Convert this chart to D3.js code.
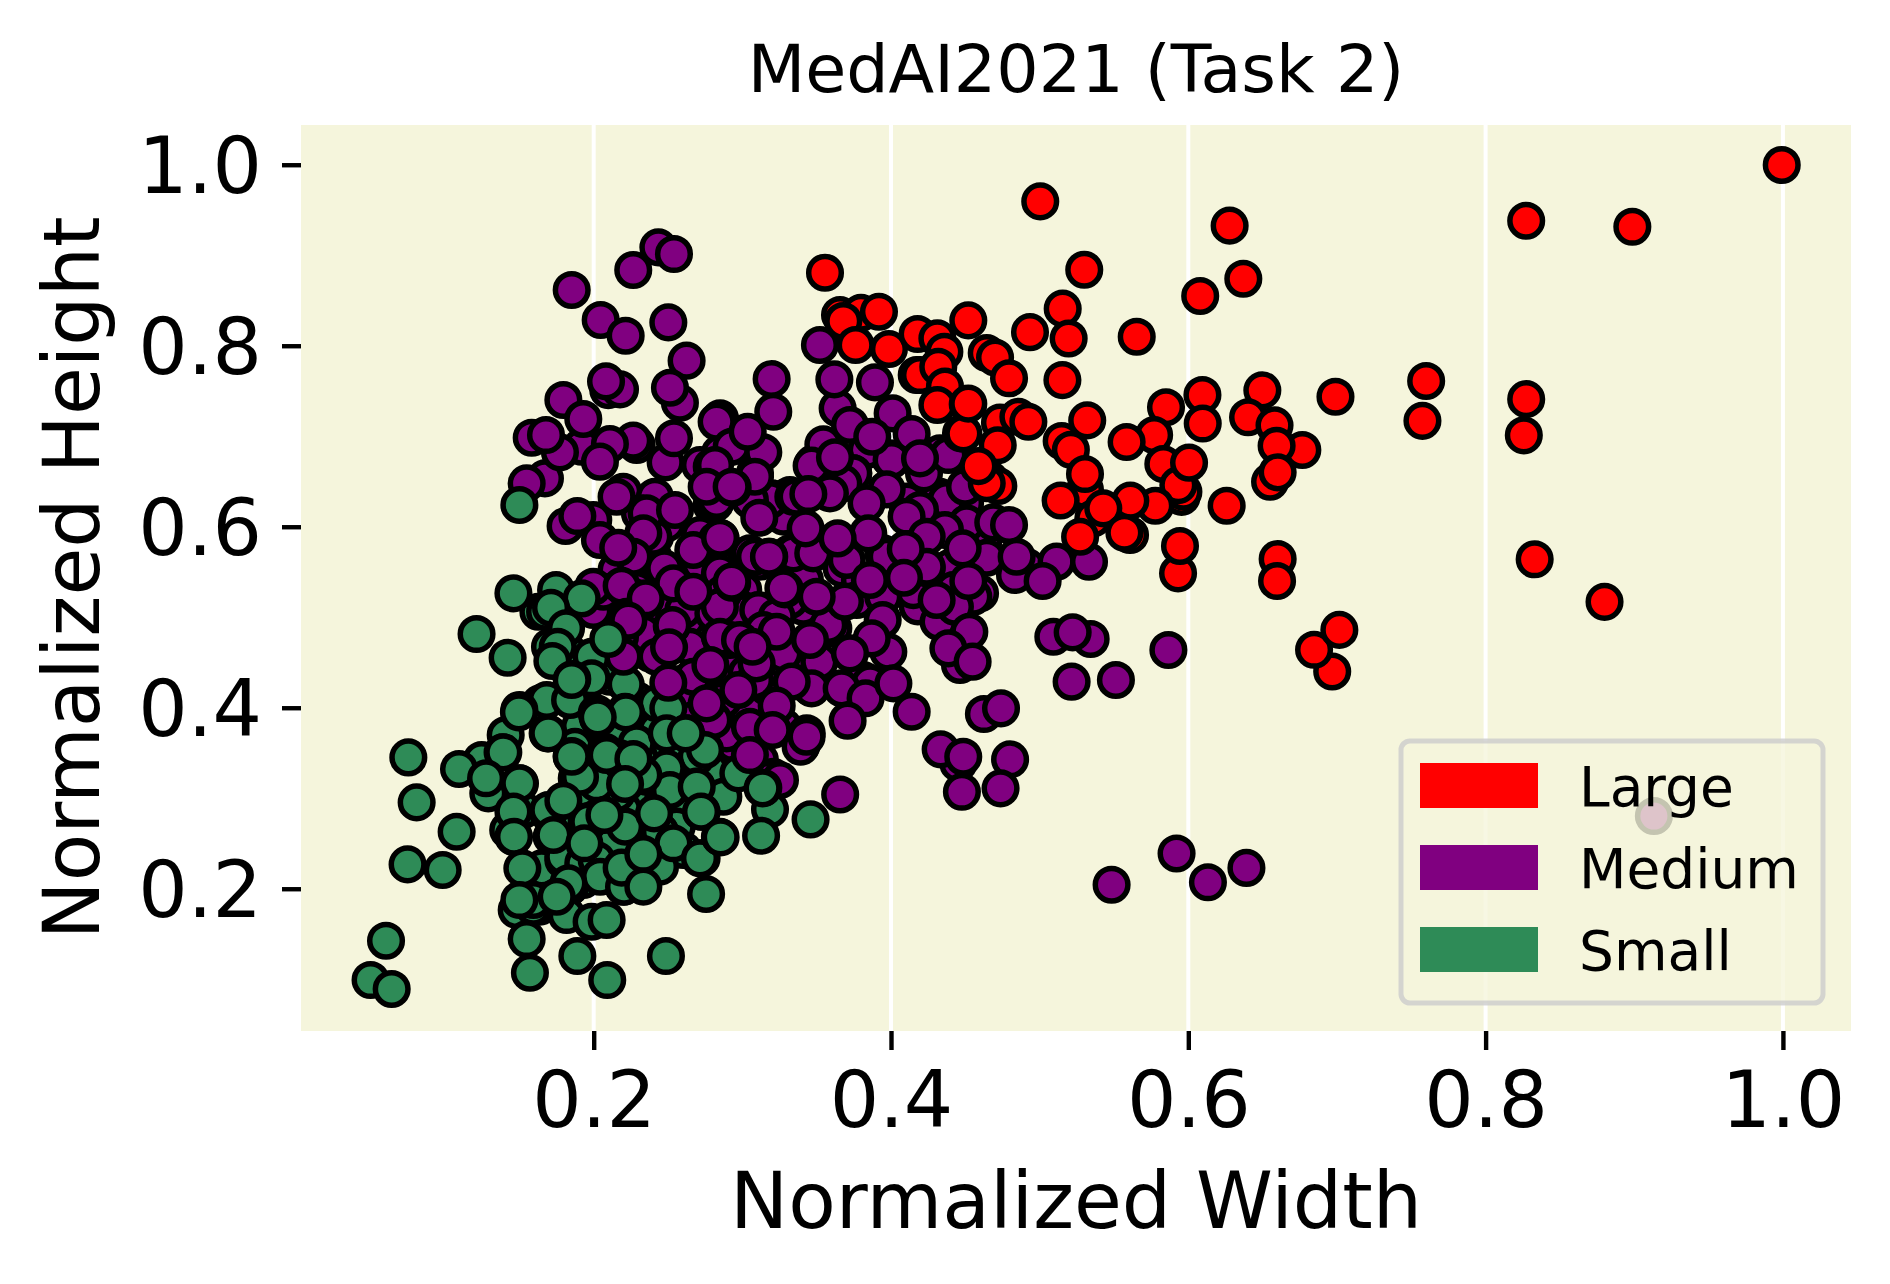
<!DOCTYPE html>
<html><head><meta charset="utf-8">
<script src="https://cdn.jsdelivr.net/npm/d3@7/dist/d3.min.js"></script>
<style>html,body{margin:0;padding:0;background:#fff}svg{display:block}text{font-family:"DejaVu Sans",sans-serif;fill:#000}</style>
</head><body><svg id="c" width="1890" height="1284"></svg>
<script>
const categories=["Large","Medium","Small"];
const colors=["#ff0000","#800080","#2e8b57"];
const xTicks=[0.2,0.4,0.6,0.8,1.0];
const yTicks=[0.2,0.4,0.6,0.8,1.0];
const mediumHidden=[[.2849,.6811],[.3085,.6590],[.3197,.6313],[.2793,.6240],[.3320,.6350],[.4329,.6332],[.4385,.6019],[.3948,.5706],[.3668,.5540],[.3791,.5411],[.3421,.5411],[.3320,.5706],[.3029,.5687],[.2827,.5448],[.3006,.5301],[.3118,.4969],[.3589,.4895],[.3769,.5190],[.3410,.5116],[.3006,.5080],[.2894,.4785],[.3320,.4601],[.3073,.4417],[.3455,.4232],[.3118,.4159],[.2849,.4085],[.3029,.3993],[.3814,.4306],[.3993,.6755],[.3836,.6848],[.4329,.6811],[.3477,.6700],[.3746,.6590],[.3275,.6313],[.2289,.6903],[.2715,.6682],[.2816,.6258],[.2413,.5890],[.2715,.5558],[.2289,.5300],[.2356,.5080],[.2626,.4969],[.2379,.4600],[.2648,.4674],[.2603,.4270],[.2693,.4306],[.2850,.4785],[.2491,.5190],[.2827,.5264],[.2334,.4822],[.2177,.4785],[.3320,.4564],[.2872,.4085],[.2917,.4453],[.3164,.4232],[.3029,.4380],[.3276,.3790],[.2939,.3606],[.3118,.3422],[.3208,.3238],[.2625,.4159],[.2670,.3864],[.3051,.5707],[.3276,.6112],[.3343,.5706],[.3320,.5190],[.2266,.5227],[.2603,.5080],[.3006,.5043],[.2401,.5669],[.2715,.5596],[.4460,.6150],[.4620,.5830],[.4400,.5550],[.4180,.5120],[.4320,.4950],[.4420,.5300],[.4150,.5300]];
const mediumBack=[[.2098,.751],[.2177,.7518],[.2850,.7197],[.1919,.6884],[.1672,.6534],[.2199,.6387],[.2412,.6332],[.2311,.6148],[.2491,.6037],[.2401,.5890],[.3186,.6295],[.3051,.6295],[.3343,.6332],[.2715,.5908],[.2849,.5485],[.2872,.5264],[.3118,.5614],[.1997,.6074],[.2042,.5853],[.2222,.5669],[.2154,.5522],[.2345,.5190],[.2356,.6148],[.2334,.5927],[.2267,.5669],[.1998,.5080],[.2065,.5282],[.2794,.6663],[.2827,.5853],[.1997,.5337],[.2805,.5043],[.3107,.5080],[.3231,.5006],[.3641,.7308],[.4011,.7253],[.3545,.6910],[.3466,.6675],[.3746,.6590],[.3679,.6479],[.4004,.6737],[.4222,.6590],[.4386,.6792],[.4105,.6277],[.3589,.6369],[.3365,.6332],[.4498,.6258],[.4374,.6295],[.4195,.6185],[.4105,.6111],[.4509,.6037],[.4688,.6048],[.4363,.5964],[.4240,.5890],[.3477,.5706],[.3702,.5632],[.4644,.5658],[.4913,.5558],[.4834,.5466],[.4038,.5650],[.4240,.5540],[.4599,.5264],[.4554,.5227],[.4430,.5116],[.3948,.5227],[.3085,.5669],[.4240,.5558],[.3971,.5669],[.3858,.5411],[.3612,.4877],[.2849,.5116],[.3141,.4859],[.2917,.4748],[.3085,.4306],[.3982,.4619],[.3518,.4509],[.3578,.4914],[.3276,.4601],[.3466,.4214],[.3859,.4269],[.3433,.3717],[.3399,.3588],[.2850,.4785],[.2984,.4748],[.3096,.4490],[.2894,.3717],[.3051,.3790],[.2805,.3864],[.3164,.3201],[.3253,.3201],[.2670,.4343],[.4527,.4840],[.4464,.4472],[.5092,.4785],[.5343,.4759],[.4625,.3930],[.4453,.3385],
[.2435,.9087],[.2540,.9013],[.2266,.8837],[.1852,.8616],[.2047,.8284],[.2215,.8111],[.2502,.8258],[.2625,.7835],[.258,.737],[.2513,.7536],[.2083,.7606],[.1796,.7400],[.193,.7190],[.1583,.6984],[.1773,.6822],[.1679,.7013],[.2266,.6951],[.2109,.6914],[.2484,.6711],[.2540,.6977],[.2042,.6719],[.3197,.7632],[.3208,.7271],[.2827,.7161],[.2928,.6884],[.3141,.6822],[.3036,.7050],[.2816,.6682],[.3085,.6553],[.2827,.6295],[.2760,.6442],[.2935,.6431],[.1549,.6479],[.2154,.6332],[.2547,.6185],[.3114,.6100],[.1811,.6008],[.1890,.6118],[.2854,.5871],[.2670,.5743],[.2165,.5768],[.2475,.5540],[.2188,.5348],[.2536,.5374],[.3181,.5669],[.3287,.5308],[.2670,.5282],[.2932,.5382],[.2222,.5006],[.2350,.5209],[.2525,.4903],[.3522,.8008],[.3619,.7628],[.3892,.7595],[.3724,.7124],[.3874,.6995],[.4139,.7024],[.3623,.6767],[.4195,.6755],[.3971,.6413],[.3836,.6258],[.3444,.6361],[.4498,.6442],[.4794,.6019],[.3847,.5927],[.3641,.5871],[.3426,.5982],[.4099,.5754],[.4482,.5761],[.4845,.5669],[.5114,.5614],[.5332,.5614],[.5020,.5400],[.4087,.5437],[.4520,.5400],[.4307,.5190],[.3690,.5172],[.3500,.5227],[.3276,.5319],[.3179,.5669],[.2928,.5393],[.2850,.5879],[.2928,.6442],[.3944,.4969],[.3870,.4766],[.3724,.4601],[.3455,.4748],[.3231,.4840],[.3332,.4288],[.3668,.4214],[.3829,.4104],[.4016,.4269],[.4139,.3956],[.3708,.3857],[.5222,.4833],[.5866,.4638],[.5215,.4288],[.5513,.4306],[.4386,.4656],[.4549,.4509],[.4740,.3993],[.4334,.3540],[.4486,.3459],[.4801,.3429],[.4477,.3071],[.4737,.3109],[.3658,.3042],[.5484,.2044],[.5921,.2390],[.6132,.2071],[.6391,.2230],[.9132,.2803]];
const smallHidden=[[.1886,.3220],[.2110,.3496],[.2065,.3238],[.1998,.3128],[.2379,.3386],[.2513,.3570],[.2424,.3754],[.2110,.3754],[.1908,.3791],[.1863,.2760],[.1818,.2649],[.2603,.2833],[.2334,.3017],[.2469,.3017],[.2603,.3017],[.2783,.3128],[.2200,.2870],[.1908,.3091],[.2558,.2686],[.2155,.2428],[.1998,.2354],[.1841,.2318],[.1729,.2281],[.1841,.2023],[.1639,.1802],[.1594,.2023],[.2424,.2391],[.2289,.2539],[.2110,.2612],[.2783,.3312],[.2289,.3607],[.1953,.3496],[.1796,.2133],[.1930,.2097],[.1706,.4674],[.1841,.4600],[.1886,.4159],[.1639,.4048],[.2110,.4343],[.2289,.4085],[.2424,.4048]];
const smallBack=[[.1628,.5061],[.1673,.5061],[.1747,.5301],[.1460,.5264],[.1919,.5208],[.1713,.5105],[.1500,.6240],[.1814,.4877],[.1758,.4674],[.1986,.4564],[.1722,.4516],[.1212,.4814],[.1421,.4553],[.1986,.4325],[.1856,.4317],[.2215,.4258],[.1684,.4085],[.1841,.4085],[.2020,.3938],[.2211,.3956],[.2502,.3993],[.2031,.3883],[.1500,.3975],[.1690,.3717],[.1874,.3569],[.1852,.3466],[.1408,.3698],[.1246,.3422],[.1387,.3507],[.1094,.3323],[.0753,.3451],[.0809,.2954],[.1078,.2630],[.0748,.2269],[.0984,.2207],[.1291,.3054],[.1504,.3164],[.1526,.2870],[.1425,.2649],[.1459,.2575],[.1695,.2833],[.1717,.2575],[.2621,.3717],[.2693,.3459],[.2177,.3440],[.2076,.3514],[.2210,.3164],[.2356,.3238],[.2491,.3330],[.2491,.3717],[.2693,.3127],[.2872,.3017],[.2973,.3275],[.3186,.2877],[.2726,.2851],[.1953,.2741],[.2210,.2649],[.1930,.2501],[.2446,.2630],[.2524,.2483],[.2726,.2336],[.2199,.2225],[.2132,.2207],[.2076,.2151],[.2199,.2022],[.2401,.2244],[.1650,.2225],[.1796,.2317],[.1482,.1765],[.1594,.1801],[.1840,.2022],[.1818,.1709],[.1986,.1636],[.1549,.1444],[.1571,.1072],[.1890,.1256],[.2091,.0991],[.2486,.1256],[.0603,.1426],[.0499,.0991],[.0641,.0892],[.2155,.3054],[.2020,.3165],[.1908,.3238],[.2513,.3091],[.1796,.2354],[.2132,.2502],[.1930,.2281],[.2020,.2318],[.2603,.2428],[.2446,.2244],[.2043,.2133],[.2204,.2023],[.1830,.2060],[.1594,.1876],[.1695,.2870],[.1729,.2594],[.2211,.2686],[.2446,.2631],[.2536,.2502],[.2693,.3128],[.2749,.3533],[.2087,.3478],[.2334,.3257],[.2188,.2233],[.2715,.2336],[.2849,.2575],[.1964,.2741],[.3459,.2766],[.3141,.3116],
[.1392,.3507],[.1276,.3220],[.1500,.3165],[.1460,.2852],[.1464,.2575],[.1796,.2973],[.1937,.2502],[.2072,.2815],[.2406,.2833],[.2722,.2852],[.2619,.3717],[.2267,.3434],[.2211,.3157],[.1852,.3459],[.1695,.3717],[.2334,.2384],[.2334,.2023],[.1520,.2225],[.1751,.1912],[.1500,.1875],[.2087,.1655],[.2756,.1942],[.2854,.2568],[.3126,.2586],[.1852,.4306],[.2217,.3949],[.2027,.3894],[.1497,.3949]];
const mediumFront=[[.2233,.4962],[.2529,.4914],[.2200,.4564],[.2423,.4564],[.2507,.4667],[.2502,.4277],[.2785,.4472],[.2760,.4048],[.2973,.4196],[.3069,.4674],[.3231,.4023],[.3204,.3754],[.3051,.3477],[.3392,.3569],[.3432,.3680]];
const smallFront=[[.2098,.4759],[.3136,.3109]];
const largeDots=[[.4666,.652],[.4722,.645],[.4644,.648],[.3657,.8339],[.3798,.8365],[.3919,.8376],[.3679,.8273],[.3762,.8008],[.3986,.7964],[.4179,.8129],[.4312,.8081],[.4359,.7934],[.4173,.7676],[.4195,.7676],[.4318,.7768],[.4363,.755],[.4471,.7032],[.4312,.7345],[.4516,.7352],[.3556,.8807],[.530,.884],[.608,.855],[.637,.874],[.6278,.9327],[.452,.828],[.4935,.815],[.5155,.841],[.5195,.808],[.5653,.810],[.4644,.792],[.470,.787],[.4794,.764],[.5153,.762],[.4487,.703],[.452,.736],[.4733,.715],[.4857,.7216],[.4924,.716],[.532,.7175],[.5148,.6947],[.521,.685],[.5305,.6406],[.5305,.6582],[.5141,.629],[.585,.732],[.577,.7013],[.5585,.6936],[.6095,.7455],[.6097,.714],[.6498,.7507],[.6402,.7209],[.658,.712],[.6767,.6848],[.6594,.6895],[.655,.6498],[.6601,.6601],[.699,.7437],[.5832,.6693],[.5955,.633],[.5967,.6387],[.5933,.646],[.6005,.6708],[.5778,.6232],[.561,.6288],[.5361,.6093],[.5428,.6203],[.5608,.5908],[.557,.5934],[.5272,.589],[.6258,.6232],[.5931,.5485],[.5944,.5787],[.6601,.5643],[.6597,.5400],[.6968,.440],[.6846,.464],[.7016,.486],[.9992,.9997],[.8987,.9314],[.8273,.9381],[.76,.761],[.7575,.717],[.8273,.741],[.8257,.701],[.833,.564],[.880,.517],[.5004,.9595],[.4718,.690],[.4588,.667]];

const x=d3.scaleLinear().domain([0.0031,1.0458]).range([301,1851]);
const y=d3.scaleLinear().domain([0.0428,1.0439]).range([1031,125]);
const svg=d3.select("#c");
svg.append("rect").attr("x",301).attr("y",125).attr("width",1550).attr("height",906).attr("fill","#f5f5dc");
svg.append("g").selectAll("line").data(xTicks).join("line")
 .attr("x1",d=>x(d)).attr("x2",d=>x(d)).attr("y1",125).attr("y2",1031).attr("stroke","#fff").attr("stroke-width",4);

const layers=[[mediumHidden,1],[mediumBack,1],[smallHidden,2],[smallBack,2],[mediumFront,1],[smallFront,2],[largeDots,0]];
layers.forEach(([pts,c])=>{
 svg.append("g").selectAll("circle").data(pts).join("circle")
  .attr("cx",d=>x(d[0])).attr("cy",d=>y(d[1])).attr("r",16.3)
  .attr("fill",colors[c]).attr("stroke","#000").attr("stroke-width",5.5);
});

const ax=svg.append("g").attr("transform","translate(0,1031)").call(d3.axisBottom(x).tickValues(xTicks).tickFormat(d3.format(".1f")).tickSize(19).tickPadding(22));
const ay=svg.append("g").attr("transform","translate(301,0)").call(d3.axisLeft(y).tickValues(yTicks).tickFormat(d3.format(".1f")).tickSize(19).tickPadding(20));
[ax,ay].forEach(a=>{a.select(".domain").remove();a.selectAll("line").attr("stroke","#000").attr("stroke-width",4.4);
 a.selectAll("text").attr("font-size",77.8).attr("font-family","DejaVu Sans").attr("fill","#000");a.attr("font-family",null);});
ay.selectAll("text").attr("dy","0.36em");

svg.append("text").attr("x",1076).attr("y",92).attr("text-anchor","middle").attr("font-size",66.7).text("MedAI2021 (Task 2)");
svg.append("text").attr("x",1076).attr("y",1228).attr("text-anchor","middle").attr("font-size",77.8).text("Normalized Width");
svg.append("text").attr("transform","translate(99,578) rotate(-90)").attr("text-anchor","middle").attr("font-size",77.8).text("Normalized Height");

const lg=svg.append("g");
lg.append("rect").attr("x",1401).attr("y",741).attr("width",422).attr("height",262).attr("rx",9)
 .attr("fill","#f5f5dc").attr("fill-opacity",.8).attr("stroke","#cccccc").attr("stroke-opacity",.8).attr("stroke-width",5);
categories.forEach((c,i)=>{
 lg.append("rect").attr("x",1420).attr("y",763+i*82).attr("width",118).attr("height",45).attr("fill",colors[i]);
 lg.append("text").attr("x",1579).attr("y",806+i*82).attr("font-size",55).text(c);
});
</script></body></html>
